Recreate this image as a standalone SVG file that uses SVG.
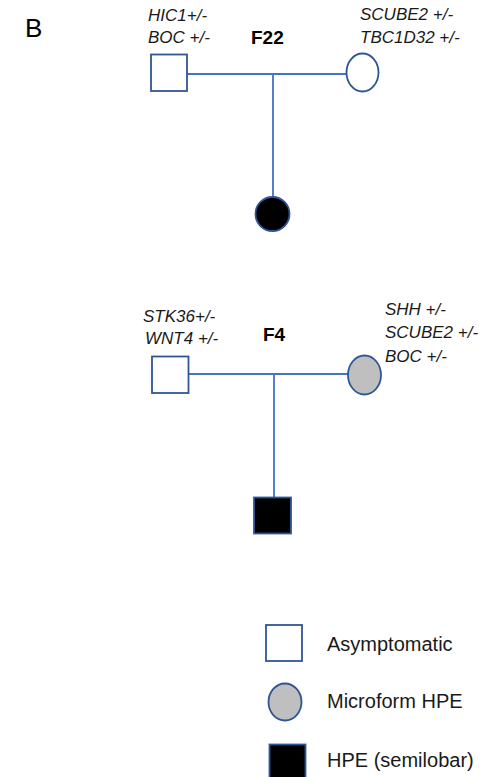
<svg xmlns="http://www.w3.org/2000/svg" width="483" height="777" viewBox="0 0 483 777">
  <style>
    .gene { font-family: "Liberation Sans", Arial, sans-serif; font-style: italic; font-size: 17px; fill: #1a1a1a; }
    .fam { font-family: "Liberation Sans", Arial, sans-serif; font-weight: bold; font-size: 19px; fill: #000; }
    .panel { font-family: "Liberation Sans", Arial, sans-serif; font-size: 26px; fill: #000; }
    .legend { font-family: "Liberation Sans", Arial, sans-serif; font-size: 20px; fill: #1a1a1a; }
    .shape { stroke: #2F5597; stroke-width: 1.8; }
    .empty { fill: #ffffff; }
    .micro { fill: #BFBFBF; }
    .affected { fill: #000000; }
    .link { stroke: #4472C4; stroke-width: 1.8; fill: none; }
  </style>
  <rect width="483" height="777" fill="#ffffff"/>

  <text class="panel" x="25" y="37">B</text>

  <!-- connectors -->
  <g id="connectors">
    <path class="link" d="M187 74 H346 M273 74 V197"/>
    <path class="link" d="M189 374 H348 M274 374 V497"/>
  </g>

  <!-- family F22 -->
  <g id="f22-label">
    <text class="fam" x="251" y="44">F22</text>
  </g>
  <g id="f22-father">
    <rect class="shape empty" x="151" y="54.5" width="36" height="36.5"/>
    <text class="gene" x="148" y="21">HIC1+/-</text>
    <text class="gene" x="148" y="43">BOC +/-</text>
  </g>
  <g id="f22-mother">
    <ellipse class="shape empty" cx="362.5" cy="72.5" rx="16" ry="19"/>
    <text class="gene" x="360" y="20">SCUBE2 +/-</text>
    <text class="gene" x="360" y="43">TBC1D32 +/-</text>
  </g>
  <g id="f22-child">
    <circle class="shape affected" cx="272.5" cy="214" r="17"/>
  </g>

  <!-- family F4 -->
  <g id="f4-label">
    <text class="fam" x="263" y="341">F4</text>
  </g>
  <g id="f4-father">
    <rect class="shape empty" x="152" y="356.5" width="36.5" height="36.5"/>
    <text class="gene" x="143" y="322">STK36+/-</text>
    <text class="gene" x="145" y="344">WNT4 +/-</text>
  </g>
  <g id="f4-mother">
    <ellipse class="shape micro" cx="364.5" cy="375" rx="16.5" ry="19.5"/>
    <text class="gene" x="385" y="315">SHH +/-</text>
    <text class="gene" x="385" y="338">SCUBE2 +/-</text>
    <text class="gene" x="385" y="362">BOC +/-</text>
  </g>
  <g id="f4-child">
    <rect class="shape affected" x="254" y="497.5" width="37" height="36"/>
  </g>

  <!-- legend -->
  <g id="legend-asymptomatic">
    <rect class="shape empty" x="266" y="625" width="36" height="36"/>
    <text class="legend" x="327" y="651">Asymptomatic</text>
  </g>
  <g id="legend-microform">
    <ellipse class="shape micro" cx="285" cy="702" rx="16.5" ry="18.5"/>
    <text class="legend" x="327" y="708">Microform HPE</text>
  </g>
  <g id="legend-hpe">
    <rect class="shape affected" x="269.5" y="744.5" width="36" height="36"/>
    <text class="legend" x="327" y="767">HPE (semilobar)</text>
  </g>
</svg>
